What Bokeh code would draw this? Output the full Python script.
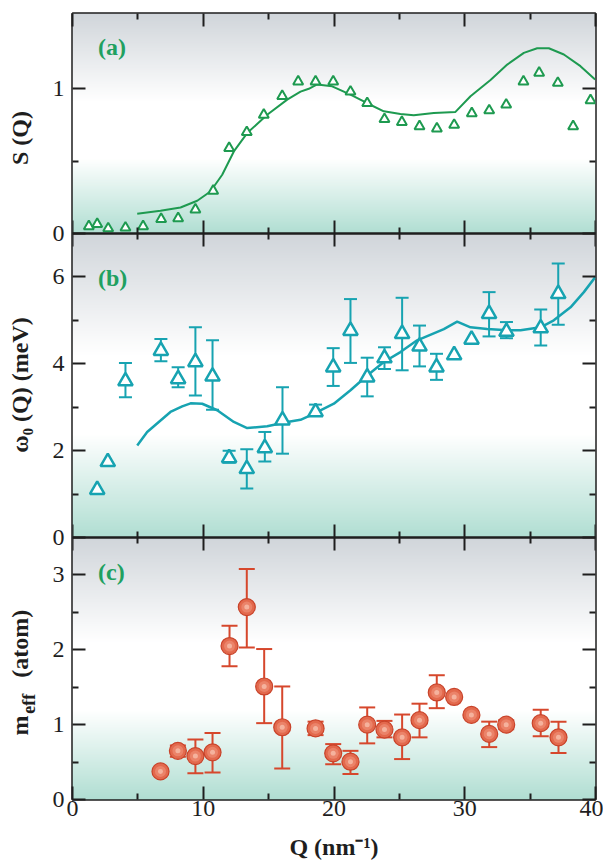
import numpy as np
from bokeh.plotting import figure
from bokeh.models import (Range1d, LinearAxis, Whisker, ColumnDataSource, Label,
                          FixedTicker, TeeHead)
from bokeh.embed import file_html
from bokeh.resources import INLINE

# ---------------- data ----------------
# (a) S(Q): experimental points and calculated curve
a_q = [1.25, 1.89, 2.73, 4.05, 5.40, 6.78, 8.08, 9.40, 10.76, 11.98, 13.33, 14.63, 16.04,
       17.26, 18.59, 19.94, 21.26, 22.54, 23.86, 25.19, 26.54, 27.87, 29.19, 30.54, 31.87,
       33.17, 34.49, 35.69, 37.12, 38.29, 39.62]
a_s = [0.05, 0.065, 0.035, 0.04, 0.05, 0.10, 0.105, 0.165, 0.295, 0.59, 0.70, 0.82, 0.95,
       1.05, 1.05, 1.05, 0.98, 0.90, 0.79, 0.77, 0.74, 0.725, 0.75, 0.83, 0.85,
       0.89, 1.05, 1.11, 1.04, 0.74, 0.92]
a_line_q = [4.95, 6.73, 8.26, 9.54, 10.55, 11.45, 12.34, 13.36, 14.89, 16.42, 17.44, 18.07,
            18.71, 19.86, 21.26, 22.54, 23.81, 25.08, 26.10, 27.63, 29.29, 30.44, 31.97,
            33.25, 34.52, 35.54, 36.43, 37.58, 38.85, 39.97]
a_line_s = [0.136, 0.157, 0.18, 0.226, 0.29, 0.406, 0.567, 0.694, 0.82, 0.925, 0.98, 1.0,
            1.03, 1.017, 0.96, 0.90, 0.844, 0.826, 0.817, 0.833, 0.84, 0.948, 1.06,
            1.167, 1.248, 1.28, 1.28, 1.237, 1.156, 1.064]

# (b) omega_0(Q)
b_q = [1.89, 2.70, 4.05, 6.76, 8.08, 9.40, 10.71, 11.98, 13.33, 14.71, 16.06, 18.59, 19.94,
       21.26, 22.54, 23.86, 25.21, 26.54, 27.84, 29.19, 30.52, 31.86, 33.19, 35.81, 37.15]
b_w = [1.10, 1.74, 3.60, 4.30, 3.65, 4.04, 3.71, 1.83, 1.58, 2.06, 2.70, 2.89, 3.92,
       4.76, 3.69, 4.13, 4.69, 4.40, 3.92, 4.20, 4.56, 5.15, 4.74, 4.82, 5.61]
b_err_q = [4.05, 6.76, 8.08, 9.40, 10.71, 11.98, 13.33, 14.71, 16.06, 18.59, 19.94, 21.26,
           22.54, 23.86, 25.21, 26.54, 27.84, 31.86, 33.19, 35.81, 37.15]
b_err_hi = [4.02, 4.57, 3.92, 4.84, 4.54, 2.00, 2.03, 2.43, 3.46, 3.06, 4.36, 5.49,
            4.14, 4.38, 5.52, 4.88, 4.23, 5.65, 4.96, 5.25, 6.31]
b_err_lo = [3.23, 4.06, 3.46, 3.27, 2.94, 1.72, 1.13, 1.75, 1.93, 2.80, 3.49, 4.02,
            3.25, 3.88, 3.85, 3.94, 3.63, 4.63, 4.59, 4.42, 4.90]
b_line_q = [4.95, 5.71, 6.60, 7.49, 8.39, 9.03, 9.92, 11.07, 12.34, 13.36, 14.89, 16.42,
            17.44, 18.20, 19.99, 21.26, 22.54, 23.81, 25.08, 26.36, 28.40, 29.42, 30.44,
            31.72, 33.25, 34.27, 35.80, 36.81, 38.09, 39.11, 39.97]
b_line_w = [2.12, 2.43, 2.66, 2.89, 3.02, 3.09, 3.08, 2.93, 2.66, 2.52, 2.56, 2.66,
            2.71, 2.81, 3.08, 3.39, 3.73, 4.04, 4.27, 4.54, 4.80, 4.97, 4.84,
            4.80, 4.77, 4.77, 4.84, 5.00, 5.30, 5.65, 5.99]

# (c) m_eff(Q)
c_q = [6.73, 8.06, 9.40, 10.71, 12.01, 13.33, 14.66, 16.04, 18.59, 19.94, 21.26, 22.54,
       23.86, 25.21, 26.54, 27.86, 29.19, 30.51, 31.87, 33.17, 35.81, 37.17]
c_m = [0.375, 0.65, 0.58, 0.63, 2.05, 2.57, 1.51, 0.965, 0.95, 0.617, 0.505, 1.0,
       0.934, 0.83, 1.06, 1.43, 1.37, 1.13, 0.876, 1.0, 1.02, 0.83]
c_err_q = [8.06, 9.40, 10.71, 12.01, 13.33, 14.66, 16.04, 18.59, 19.94, 21.26, 22.54,
           23.86, 25.21, 26.54, 27.86, 31.87, 33.17, 35.81, 37.17]
c_err_hi = [0.72, 0.80, 0.89, 2.32, 3.08, 2.01, 1.51, 1.04, 0.74, 0.65, 1.23,
            1.05, 1.135, 1.28, 1.66, 1.04, 1.06, 1.20, 1.04]
c_err_lo = [0.57, 0.35, 0.36, 1.78, 2.03, 1.02, 0.415, 0.86, 0.47, 0.34, 0.75,
            0.83, 0.54, 0.83, 1.22, 0.70, 0.94, 0.845, 0.62]

# ticks
x_major = [0, 10, 20, 30, 40]
x_minor = [5, 15, 25, 35]
y_major = {"a": [0, 1], "b": [0, 2, 4, 6], "c": [0, 1, 2, 3]}
y_minor = {"a": [0.5], "b": [1, 3, 5], "c": [0.5, 1.5, 2.5]}

# axis titles: (text, panel, centre value in that panel's units)
y_titles = [("S (Q)", "a", 0.66),
            ("ω₀ (Q)  (meV)", "b", 3.58),
            ("m", "c", 0.99),
            ("(atom)", "c", 2.08)]
y_title_sub = ("eff", "c", 1.28)
x_title = "Q (nm⁻¹)"

# ---------------- layout / style ----------------
GREEN = "#1e9a50"
LABEL_GREEN = "#20a060"
TEAL = "#17a3b1"
RED_LINE = "#d6472c"
RED_FILL = "#e3694d"
INK = "#1e1e1e"
FONT = "Liberation Serif"

HEIGHT = {"a": 220, "b": 304, "c": 262}
YMAX = {"a": 1.52, "b": 7.0, "c": 3.5}
BASE = {"c": 0, "b": HEIGHT["c"], "a": HEIGHT["c"] + HEIGHT["b"]}
H_ALL = sum(HEIGHT.values())


def to_main(panel, v):
    return BASE[panel] + v * HEIGHT[panel] / YMAX[panel]


extra = {}
for k in "abc":
    s = HEIGHT[k] / YMAX[k]
    extra[k] = Range1d(-BASE[k] / s, (H_ALL - BASE[k]) / s)

p = figure(frame_width=523, frame_height=H_ALL, x_range=Range1d(0, 40),
           y_range=Range1d(0, H_ALL), output_backend="svg", toolbar_location=None,
           min_border_left=72, min_border_right=8, min_border_top=13, min_border_bottom=60)
p.extra_y_ranges = extra
p.grid.visible = False
p.outline_line_color = INK
p.outline_line_width = 2.5
p.background_fill_color = "white"
p.border_fill_color = "white"


def style_ticks(ax, both=False):
    ax.major_tick_in = 13
    ax.major_tick_out = 13 if both else 0
    ax.minor_tick_in = 6
    ax.minor_tick_out = 6 if both else 0
    ax.major_tick_line_width = 2
    ax.minor_tick_line_width = 2
    ax.major_tick_line_color = INK
    ax.minor_tick_line_color = INK


def hide_labels(ax):
    ax.major_label_text_font_size = "0px"
    ax.major_label_text_color = None
    ax.major_label_standoff = 0


xt = FixedTicker(ticks=x_major, minor_ticks=x_minor)

# bottom x axis with labels
xb = p.xaxis[0]
xb.ticker = xt
style_ticks(xb)
xb.axis_line_color = None
xb.major_label_text_font = FONT
xb.major_label_text_font_size = "24px"
xb.major_label_text_color = INK
xb.major_label_standoff = 1
xb.axis_label = x_title
xb.axis_label_text_font = FONT
xb.axis_label_text_font_style = "bold"
xb.axis_label_text_font_size = "24px"
xb.axis_label_text_color = INK
xb.axis_label_standoff = 15

# top x axis (ticks only)
xa = LinearAxis(ticker=xt, axis_line_color=None)
style_ticks(xa)
hide_labels(xa)
p.add_layout(xa, "above")

# panel separators with ticks on both sides
for k in ("a", "b"):
    sep = LinearAxis(ticker=xt, fixed_location=BASE[k], axis_line_color=INK,
                     axis_line_width=2.5)
    style_ticks(sep, both=True)
    hide_labels(sep)
    p.add_layout(sep, "below")

# y ticks for all three panels in one left axis
y_ticks, y_minor_ticks, y_over = [], [], {}
for k in "abc":
    for v in y_major[k]:
        pos = float(to_main(k, v))
        y_ticks.append(pos)
        y_over[pos] = str(v)
    for v in y_minor[k]:
        y_minor_ticks.append(float(to_main(k, v)))
yt = FixedTicker(ticks=y_ticks, minor_ticks=y_minor_ticks)

yl = p.yaxis[0]
yl.ticker = yt
style_ticks(yl)
yl.axis_line_color = None
yl.major_label_overrides = y_over
yl.major_label_text_font = FONT
yl.major_label_text_font_size = "24px"
yl.major_label_text_color = INK
yl.major_label_standoff = 8

yr = LinearAxis(ticker=yt, axis_line_color=None)
style_ticks(yr)
hide_labels(yr)
p.add_layout(yr, "right")

# y titles, as vertical labels of a tick-less axis
t_pos, t_over = [], {}
for text, k, v in y_titles:
    pos = float(to_main(k, v))
    t_pos.append(pos)
    t_over[pos] = text
ytitle = LinearAxis(ticker=FixedTicker(ticks=t_pos, minor_ticks=[]),
                    major_label_overrides=t_over, major_label_orientation="parallel",
                    major_tick_line_color=None, minor_tick_line_color=None,
                    major_tick_in=0, major_tick_out=0, axis_line_color=None,
                    major_label_standoff=16, major_label_text_font=FONT,
                    major_label_text_font_style="bold", major_label_text_font_size="24px",
                    major_label_text_color=INK)
p.add_layout(ytitle, "left")

sub_pos = float(to_main(y_title_sub[1], y_title_sub[2]))
ysub = LinearAxis(ticker=FixedTicker(ticks=[sub_pos], minor_ticks=[]),
                  major_label_overrides={sub_pos: y_title_sub[0]},
                  major_label_orientation="parallel",
                  major_tick_line_color=None, minor_tick_line_color=None,
                  major_tick_in=0, major_tick_out=0, axis_line_color=None,
                  major_label_standoff=-35, major_label_text_font=FONT,
                  major_label_text_font_style="bold", major_label_text_font_size="18px",
                  major_label_text_color=INK)
p.add_layout(ysub, "left")


# backgrounds
def gradient_image(n=300):
    stops = [(0.0, (176, 222, 210)), (0.34, (255, 255, 255)),
             (0.60, (255, 255, 255)), (1.0, (208, 213, 218))]
    img = np.empty((n, 1), dtype=np.uint32)
    view = img.view(dtype=np.uint8).reshape((n, 1, 4))
    for i in range(n):
        f = (i + 0.5) / n
        for (f0, c0), (f1, c1) in zip(stops[:-1], stops[1:]):
            if f0 <= f <= f1:
                t = (f - f0) / (f1 - f0)
                col = [int(round(c0[j] + (c1[j] - c0[j]) * t)) for j in range(3)]
                break
        view[i, 0, 0:3] = col
        view[i, 0, 3] = 255
    return img


grad = gradient_image()
for k in "abc":
    p.image_rgba(image=[grad], x=0, y=0, dw=40, dh=YMAX[k], y_range_name=k, level="image")


def whiskers(xs, hi, lo, color, cap, lw, rn):
    src = ColumnDataSource(dict(x=xs, upper=hi, lower=lo))
    w = Whisker(source=src, base="x", upper="upper", lower="lower", dimension="height",
                line_color=color, line_width=lw, level="underlay", y_range_name=rn,
                upper_head=TeeHead(size=cap, line_color=color, line_width=lw),
                lower_head=TeeHead(size=cap, line_color=color, line_width=lw))
    p.add_layout(w)


def panel_tag(text, k, y):
    p.add_layout(Label(x=1.95, y=y, y_range_name=k, text=text, text_font=FONT,
                       text_font_style="bold", text_font_size="24px",
                       text_color=LABEL_GREEN, text_baseline="middle", text_align="left"))


# (a)
p.line(a_line_q, a_line_s, line_color=GREEN, line_width=2, y_range_name="a")
p.scatter(a_q, a_s, marker="triangle", size=10, fill_color="white",
          line_color=GREEN, line_width=2, y_range_name="a")
panel_tag("(a)", "a", 1.29)

# (b)
whiskers(b_err_q, b_err_hi, b_err_lo, TEAL, 13, 2, "b")
p.line(b_line_q, b_line_w, line_color=TEAL, line_width=2.5, y_range_name="b")
p.scatter(b_q, b_w, marker="triangle", size=14.5, fill_color="white",
          line_color=TEAL, line_width=2.5, y_range_name="b")
panel_tag("(b)", "b", 5.97)

# (c)
whiskers(c_err_q, c_err_hi, c_err_lo, RED_LINE, 16, 2, "c")
p.scatter(c_q, c_m, marker="circle", size=17, fill_color=RED_FILL,
          line_color="#c8432a", line_width=1.2, y_range_name="c")
p.scatter(c_q, c_m, marker="circle", size=11, fill_color="#ec8a70", line_color=None,
          fill_alpha=0.8, y_range_name="c")
p.scatter(c_q, c_m, marker="circle", size=5, fill_color="#f6b7a3", line_color=None,
          fill_alpha=0.9, y_range_name="c")
panel_tag("(c)", "c", 3.04)

open("out.html", "w").write(file_html(p, INLINE))
